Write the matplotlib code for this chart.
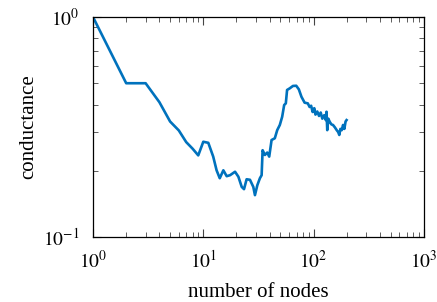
import numpy as np
import matplotlib.pyplot as plt
from matplotlib.ticker import LogLocator, NullFormatter

plt.rcParams["font.family"] = ["Liberation Serif", "DejaVu Serif"]
plt.rcParams["mathtext.fontset"] = "stix"

# number of nodes vs conductance
nodes = [1, 2, 3, 4, 5, 6, 7, 8, 9, 10, 11.1, 12.3, 13.2, 14.1, 15.2, 16.3,
         17.5, 19.4, 20.8, 22.3, 23.4, 24.7, 26.5, 28.4, 29.4, 30.9, 32.6,
         33.8, 34.5, 36.2, 38, 39.6, 41.6, 44.5, 46.8, 49.4, 51.9, 54.1, 56,
         57.5, 60.8, 65, 69.6, 73.5, 77.6, 82.9, 88.6, 92, 95, 98, 101.4, 104,
         108, 112, 116, 120, 125, 129, 131, 133, 136, 140, 145, 150, 156, 162,
         167, 171, 175, 180, 185, 190, 195, 199]
conductance = [1.0, 0.5, 0.5, 0.41, 0.335, 0.305, 0.27, 0.252, 0.235, 0.271,
               0.268, 0.232, 0.201, 0.185, 0.201, 0.189, 0.191, 0.198, 0.188,
               0.169, 0.165, 0.183, 0.182, 0.169, 0.155, 0.172, 0.185, 0.191,
               0.248, 0.236, 0.242, 0.232, 0.276, 0.281, 0.306, 0.323, 0.352,
               0.398, 0.405, 0.466, 0.474, 0.486, 0.487, 0.469, 0.434, 0.408,
               0.405, 0.39, 0.395, 0.37, 0.385, 0.36, 0.372, 0.355, 0.368,
               0.345, 0.358, 0.34, 0.371, 0.306, 0.345, 0.334, 0.325, 0.323,
               0.315, 0.306, 0.3, 0.291, 0.31, 0.306, 0.323, 0.31, 0.335, 0.34]

fig = plt.figure(figsize=(4.37, 3.02), dpi=100)
ax = fig.add_axes([0.2128, 0.2152, 0.7572, 0.7285])
ax.plot(nodes, conductance, color="#0072BD", linewidth=1.9)

ax.set_xscale("log")
ax.set_yscale("log")
ax.set_xlim(1, 1000)
ax.set_ylim(0.1, 1)
ax.xaxis.set_minor_locator(LogLocator(base=10, subs=np.arange(2, 10)))
ax.yaxis.set_minor_locator(LogLocator(base=10, subs=np.arange(2, 10)))
ax.xaxis.set_minor_formatter(NullFormatter())
ax.yaxis.set_minor_formatter(NullFormatter())
ax.set_xticks([1, 10, 100, 1000])
ax.set_xticklabels(["$10^{0}$", "$10^{1}$", "$10^{2}$", "$10^{3}$"])
ax.set_yticks([0.1, 1])
ax.set_yticklabels(["$10^{-1}$", "$10^{0}$"])

ax.tick_params(which="both", direction="in", top=True, right=True,
               labelsize=14, color="#444444")
ax.tick_params(axis="x", which="major", pad=9)
ax.tick_params(axis="y", which="major", pad=10)
ax.tick_params(which="major", length=6, width=0.8)
ax.tick_params(which="minor", length=3.5, width=0.6)
for s in ax.spines.values():
    s.set_linewidth(0.9)

ax.set_xlabel("number of nodes", fontsize=15, labelpad=8)
ax.set_ylabel("conductance", fontsize=15, labelpad=3)

fig.savefig("out.png", dpi=100)
